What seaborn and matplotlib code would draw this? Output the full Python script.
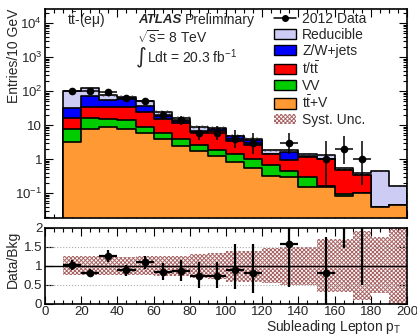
import numpy as np
import pandas as pd
import matplotlib
matplotlib.use("Agg")
import matplotlib.pyplot as plt
import seaborn as sns
from matplotlib.patches import Patch
from matplotlib.lines import Line2D
from matplotlib.ticker import MultipleLocator, LogLocator, NullFormatter, FixedLocator, FixedFormatter

sns.set_theme(style="ticks")
plt.rcParams["font.family"] = ["Liberation Sans", "DejaVu Sans"]
plt.rcParams["mathtext.fontset"] = "custom"
plt.rcParams["mathtext.rm"] = "Liberation Sans"
plt.rcParams["mathtext.it"] = "Liberation Sans:italic"
plt.rcParams["mathtext.bf"] = "Liberation Sans:bold"
plt.rcParams["hatch.linewidth"] = 0.7

# ---------------- data ----------------
bin_edges = [10, 20, 30, 40, 50, 60, 70, 80, 90, 100, 110, 120, 130, 140, 150, 160, 170, 180, 190, 200]
ttV       = [3.2, 7.9, 8.7, 7.8, 6.0, 3.8, 2.4, 1.75, 1.22, 0.80, 0.53, 0.32, 0.29, 0.155, 0.155, 0.08, 0.10, 0.04, 0.045]
VV        = [4.7, 8.1, 6.7, 5.9, 2.7, 2.2, 1.6, 0.85, 0.68, 0.60, 0.47, 0.34, 0.14, 0.135, 0.005, 0.016, 0.0, 0.0, 0.0]
top       = [8.1, 17.0, 17.6, 19.3, 15.3, 9.4, 7.4, 3.6, 4.6, 2.0, 1.5, 0.72, 0.51, 0.88, 0.82, 0.364, 0.24, 0.0, 0.0]
ZWjets    = [15.0, 40.0, 23.0, 24.0, 13.0, 3.1, 2.1, 0.3, 1.1, 1.2, 1.1, 0.07, 0.69, 0.03, 0.02, 0.01, 0.005, 0.0, 0.0]
reducible = [67.0, 49.0, 20.0, 11.0, 13.0, 5.5, 2.5, 2.2, 0.8, 0.2, 0.4, 0.38, 0.2, 0.2, 0.31, 0.06, 0.035, 0.39, 0.111]

# relative uncertainty band drawn on the stack (main panel)
stack_unc = [0.07, 0.08, 0.10, 0.09, 0.10, 0.15, 0.14, 0.12, 0.12, 0.12, 0.12, 0.10, 0.10, 0.10, 0.08, 0.08, 0.08, 0.04, 0.04]

data        = [100, 98, 91, 61, 51, 20, 14, 6, 6, 4, 3, 0, 3, 0, 1, 2, 1, 0, 0]
data_err_lo = [9.5, 9.4, 9.0, 7.3, 6.6, 4.4, 3.7, 2.4, 2.4, 1.9, 1.6, 0, 1.6, 0, 0.83, 1.3, 0.83, 0, 0]
data_err_hi = [10.5, 10.4, 10.0, 8.3, 7.7, 5.5, 4.8, 3.6, 3.6, 3.2, 2.9, 0, 2.9, 0, 2.3, 2.6, 2.3, 0, 0]

nan = np.nan
ratio        = [1.02, 0.81, 1.25, 0.88, 1.09, 0.84, 0.87, 0.73, 0.73, 0.885, 0.80, nan, 1.58, nan, 0.82, 3.8, 2.6, nan, nan]
ratio_err_lo = [0.13, 0.09, 0.16, 0.15, 0.17, 0.22, 0.28, 0.33, 0.33, 0.51, 0.51, nan, 1.13, nan, 0.82, 2.34, 2.1, nan, nan]
ratio_err_hi = [0.13, 0.10, 0.16, 0.15, 0.18, 0.23, 0.28, 0.38, 0.38, 0.69, 0.77, nan, 1.55, nan, 0.95, 5.0, 6.0, nan, nan]

syst_lo = [0.75, 0.75, 0.75, 0.76, 0.76, 0.74, 0.73, 0.67, 0.66, 0.58, 0.58, 0.53, 0.49, 0.49, 0.31, 0.30, 0.09, 0.27, 0.0]
syst_hi = [1.25, 1.25, 1.25, 1.24, 1.25, 1.26, 1.27, 1.32, 1.33, 1.39, 1.40, 1.46, 1.50, 1.50, 1.71, 1.72, 1.92, 1.77, 2.1]

labels = ["t$\\bar{\\mathrm{t}}$+V", "VV", "t/t$\\bar{\\mathrm{t}}$", "Z/W+jets", "Reducible"]
colors = ["#ff9933", "#00cc00", "#ff0000", "#0000ff", "#ccccf5"]
xticks = [0, 20, 40, 60, 80, 100, 120, 140, 160, 180, 200]

# ---------------- derived ----------------
edges = np.array(bin_edges, float)
centers = 0.5 * (edges[:-1] + edges[1:])
halfw = 0.5 * np.diff(edges)
comps = np.array([ttV, VV, top, ZWjets, reducible])
cum = np.cumsum(comps, axis=0)
total = cum[-1]

fig = plt.figure(figsize=(4.17, 3.35), dpi=100)
ax = fig.add_axes([45 / 417, 1 - 217.5 / 335, 362 / 417, 208.5 / 335])
axr = fig.add_axes([45 / 417, 1 - 303.5 / 335, 362 / 417, 75.5 / 335])

# stacked histogram: draw cumulative layers from top to bottom
for i in reversed(range(len(comps))):
    df = pd.DataFrame({"x": centers, "w": cum[i]})
    sns.histplot(data=df, x="x", weights="w", bins=list(bin_edges), element="step", fill=True,
                 color=colors[i], alpha=1.0, edgecolor="black", linewidth=1.2, ax=ax)

# uncertainty band on the stack
su = np.array(stack_unc)
lo_b = total * (1 - su)
hi_b = total * (1 + su)
ax.fill_between(edges, np.r_[lo_b, lo_b[-1]], np.r_[hi_b, hi_b[-1]], step="post",
                facecolor="none", edgecolor="#444444", hatch="//////", linewidth=0, alpha=0.55, zorder=3)

d = np.array(data, float)
m = d > 0
ax.errorbar(centers[m], d[m], xerr=halfw[m],
            yerr=[np.array(data_err_lo)[m], np.array(data_err_hi)[m]],
            fmt="o", color="black", ms=4.5, elinewidth=1.1, capsize=0, zorder=5)

ax.set_yscale("log")
ax.set_xlim(0, 200)
ax.set_ylim(0.019, 2.6e4)
ax.set_xlabel("")
ax.set_ylabel("Entries/10 GeV", fontsize=10, loc="top")
ax.yaxis.set_label_coords(-0.066, 1.0)
ax.yaxis.set_major_locator(FixedLocator([0.1, 1, 10, 100, 1000, 10000]))
ax.yaxis.set_major_formatter(FixedFormatter(["10$^{-1}$", "1", "10", "10$^{2}$", "10$^{3}$", "10$^{4}$"]))
ax.yaxis.set_minor_locator(LogLocator(base=10, subs=np.arange(2, 10), numticks=20))
ax.yaxis.set_minor_formatter(NullFormatter())
ax.xaxis.set_major_locator(MultipleLocator(20))
ax.xaxis.set_minor_locator(MultipleLocator(5))
ax.tick_params(axis="x", labelbottom=False)

for a in (ax, axr):
    a.tick_params(which="both", direction="in", top=True, right=True, labelsize=9.5, pad=2, width=0.8, color="black")
    a.tick_params(which="major", length=6)
    a.tick_params(which="minor", length=3)
    for s in a.spines.values():
        s.set_linewidth(1.2)
        s.set_color("black")

# texts
ax.text(0.061, 0.947, "t$\\bar{\\mathrm{t}}$-(eμ)", transform=ax.transAxes, fontsize=10, va="center", ha="left")
ax.text(0.257, 0.947, "ATLAS", transform=ax.transAxes, fontsize=9.5, fontweight="bold", fontstyle="italic", va="center", ha="left")
ax.text(0.386, 0.947, "Preliminary", transform=ax.transAxes, fontsize=10, va="center", ha="left")
ax.text(0.255, 0.861, "$\\sqrt{\\mathrm{s}}$= 8 TeV", transform=ax.transAxes, fontsize=10, va="center", ha="left")
ax.text(0.250, 0.772, "∫", transform=ax.transAxes, fontsize=15, va="center", ha="left", family=["DejaVu Sans"])
ax.text(0.282, 0.77, "Ldt = 20.3 fb$^{-1}$", transform=ax.transAxes, fontsize=10, va="center", ha="left")

# legend
syst_color = "#a86464"
handles = [Line2D([], [], color="black", marker="o", ms=4, lw=1.1)]
for i in reversed(range(len(comps))):
    handles.append(Patch(facecolor=colors[i], edgecolor="black", linewidth=1.0))
handles.append(Patch(facecolor="none", edgecolor=syst_color, hatch="xxxxxxxx", linewidth=0))
leg_labels = ["2012 Data"] + [labels[i] for i in reversed(range(len(comps)))] + ["Syst. Unc."]
ax.legend(handles, leg_labels, loc="upper left", bbox_to_anchor=(0.632, 0.985), frameon=False,
          fontsize=10, handlelength=1.6, handleheight=0.75, handletextpad=0.45,
          labelspacing=0.14, borderpad=0, borderaxespad=0)

# ratio panel
axr.fill_between(edges, np.r_[syst_lo, syst_lo[-1]], np.r_[syst_hi, syst_hi[-1]], step="post",
                 facecolor="none", edgecolor=syst_color, hatch="xxxxxxxx", linewidth=0, zorder=1)
axr.axhline(1, color="black", lw=1.0, zorder=2)
for yv in (0.5, 1.5):
    axr.axhline(yv, color="#aaaaaa", lw=0.8, ls=":", zorder=2)
r = np.array(ratio, float)
mr = ~np.isnan(r)
axr.errorbar(centers[mr], r[mr], xerr=halfw[mr],
             yerr=[np.array(ratio_err_lo)[mr], np.array(ratio_err_hi)[mr]],
             fmt="o", color="black", ms=4.5, elinewidth=1.6, capsize=0, zorder=5)
axr.set_xlim(0, 200)
axr.set_ylim(0, 2)
axr.set_xticks(xticks)
axr.set_xticklabels([str(v) for v in xticks])
axr.xaxis.set_minor_locator(MultipleLocator(5))
axr.set_yticks([0, 0.5, 1, 1.5, 2])
axr.set_yticklabels(["0", "0.5", "1", "1.5", "2"])
axr.set_ylabel("Data/Bkg", fontsize=10, loc="top")
axr.yaxis.set_label_coords(-0.069, 0.97)
axr.set_xlabel("Subleading Lepton p$_{\\mathrm{T}}$", fontsize=10, loc="right")
axr.xaxis.set_label_coords(0.983, -0.19)

fig.savefig("out.png", dpi=100)
